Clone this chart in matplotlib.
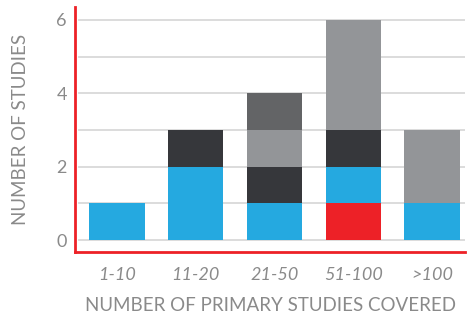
import matplotlib
matplotlib.use("Agg")
import matplotlib.pyplot as plt
import numpy as np

categories = ["1-10", "11-20", "21-50", "51-100", ">100"]
red_vals = [0, 0, 0, 1, 0]
blue_vals = [1, 2, 1, 1, 1]
dark_vals = [0, 1, 1, 1, 0]
light_vals = [0, 0, 1, 3, 2]
mid_vals = [0, 0, 1, 0, 0]
yticks = [0, 2, 4, 6]

series = [
    (red_vals, "#ed2127"),
    (blue_vals, "#25a9e0"),
    (dark_vals, "#36373b"),
    (light_vals, "#939598"),
    (mid_vals, "#636466"),
]

plt.rcParams['font.family'] = ['Lato', 'DejaVu Sans']
fig = plt.figure(figsize=(4.67, 3.16), dpi=100)
ax = fig.add_axes([0.161, 0.203, 0.835, 0.775])

x = np.arange(len(categories))
bottom = np.zeros(len(categories))
for vals, col in series:
    v = np.array(vals, dtype=float)
    ax.bar(x, v, 0.70, bottom=bottom, color=col, zorder=2, linewidth=0)
    bottom += v

ax.set_xlim(-0.53, 4.42)
ax.set_ylim(-0.32, 6.35)
for yv in range(0, 7):
    ax.axhline(yv, xmin=0.01, xmax=1, color="#d9d9d9", linewidth=1.3, zorder=1)

ax.set_yticks(yticks)
ax.set_yticklabels([str(t) for t in yticks], fontsize=13, color="#8a8a8a")
ax.set_xticks(x)
ax.set_xticklabels(categories, fontsize=13, color="#8a8a8a", style="italic")
ax.tick_params(axis="both", length=0)
ax.tick_params(axis="y", pad=6)
ax.tick_params(axis="x", pad=11)

for s in ["top", "right"]:
    ax.spines[s].set_visible(False)
for s in ["left", "bottom"]:
    ax.spines[s].set_color("#ed2127")
    ax.spines[s].set_linewidth(2)

ax.set_xlabel("NUMBER OF PRIMARY STUDIES COVERED", fontsize=13.5, color="#8a8a8a", labelpad=10)
ax.set_ylabel("NUMBER OF STUDIES", fontsize=13.5, color="#8a8a8a", labelpad=20)

fig.savefig("out.png", dpi=100)
